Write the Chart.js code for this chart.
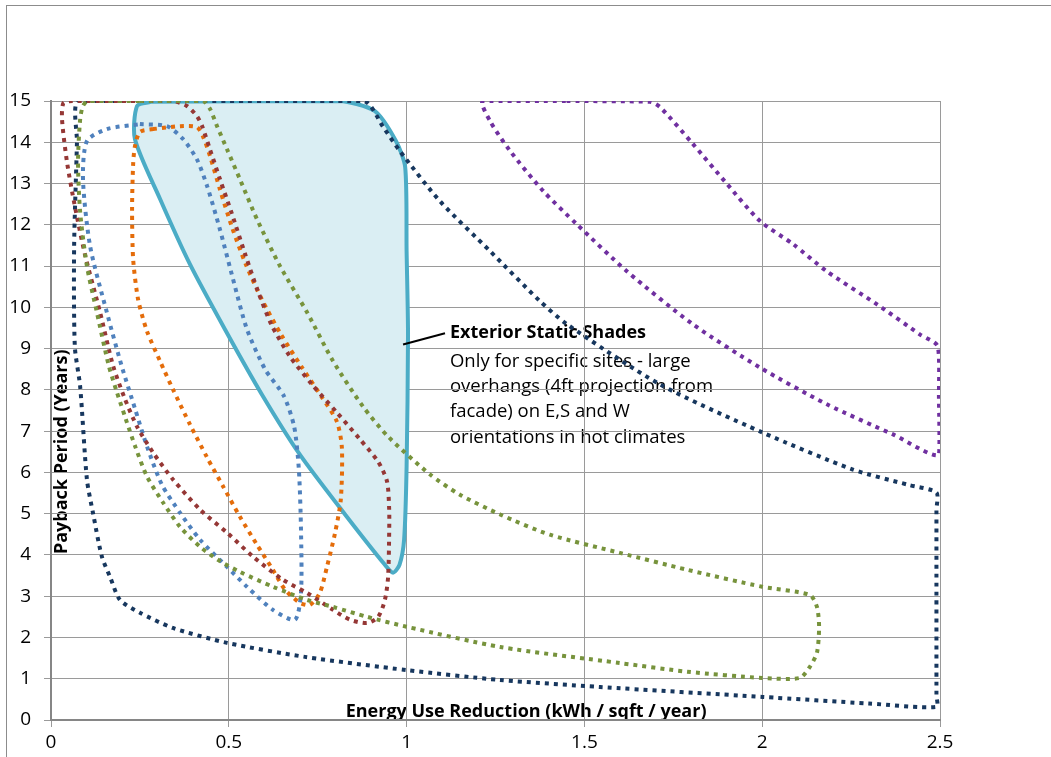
<!DOCTYPE html>
<html>
<head>
<meta charset="utf-8">
<script src="https://cdn.jsdelivr.net/npm/chart.js@4.4.0/dist/chart.umd.min.js"></script>
<style>
  html, body { margin: 0; padding: 0; background: #fff; }
  #wrap { position: relative; width: 1051px; height: 757px; overflow: hidden; }
  #frame { position: absolute; left: 6px; top: 5px; width: 1100px; height: 800px; border: 1px solid #8c8c8c; }
  canvas { position: absolute; left: 0; top: 0; }
</style>
</head>
<body>
<div id="wrap">
  <div id="frame"></div>
  <canvas id="myChart" width="1051" height="757"></canvas>
</div>
<script>
// axis ticks
const xTicks = [0, 0.5, 1, 1.5, 2, 2.5];
const yTicks = [0, 1, 2, 3, 4, 5, 6, 7, 8, 9, 10, 11, 12, 13, 14, 15];

const xTitle = "Energy Use Reduction (kWh / sqft / year)";
const yTitle = "Payback Period (Years)";
const noteTitle = "Exterior Static Shades";
const noteLines = [
  "Only for specific sites - large",
  "overhangs (4ft projection from",
  "facade) on E,S and W",
  "orientations in hot climates",
];

// closed outlines, [energy reduction, payback years]
const staticShades = [[0.28,14.98],[0.81,15.0],[0.91,14.76],[0.97,14.03],[0.996,13.4],[1.0,11.36],[1.004,9.34],[1.0,6.14],[0.993,4.37],[0.98,3.76],[0.962,3.57],[0.939,3.76],[0.827,4.98],[0.70,6.43],[0.593,7.89],[0.489,9.47],[0.391,11.04],[0.307,12.62],[0.236,14.08],[0.242,14.88],[0.28,14.98]];

const navyLoop = [[0.2,15.0],[0.5,15.0],[0.88,15.0],[0.934,14.37],[0.98,13.8],[1.094,12.57],[1.235,11.36],[1.375,10.15],[1.451,9.59],[1.713,8.13],[2.0,6.97],[2.255,6.07],[2.41,5.7],[2.49,5.51],[2.49,5.1],[2.49,3.0],[2.49,0.6],[2.49,0.32],[2.3,0.4],[2.0,0.56],[1.544,0.8],[1.263,0.97],[1.0,1.21],[0.714,1.53],[0.495,1.87],[0.343,2.23],[0.25,2.6],[0.194,2.91],[0.166,3.47],[0.143,3.96],[0.118,5.02],[0.101,5.83],[0.082,8.08],[0.067,9.05],[0.065,11.46],[0.073,14.0],[0.075,15.0],[0.2,15.0]];

const purpleLoop = [[1.45,15.0],[1.684,14.98],[1.713,14.85],[1.805,13.96],[1.901,12.99],[1.994,12.09],[2.087,11.53],[2.182,10.87],[2.323,10.07],[2.444,9.34],[2.494,9.05],[2.497,7.8],[2.497,6.43],[2.368,6.92],[2.182,7.65],[1.994,8.54],[1.805,9.59],[1.62,10.87],[1.479,12.01],[1.384,12.82],[1.291,13.79],[1.235,14.51],[1.215,15.0],[1.45,15.0]];

const blueLoop = [[0.25,14.44],[0.326,14.39],[0.371,14.08],[0.41,13.59],[0.439,12.94],[0.475,11.89],[0.512,10.68],[0.551,9.47],[0.602,8.5],[0.655,7.85],[0.684,7.1],[0.697,6.07],[0.703,4.61],[0.703,3.08],[0.686,2.43],[0.624,2.67],[0.551,3.23],[0.495,3.71],[0.419,4.37],[0.363,5.02],[0.312,5.7],[0.27,6.63],[0.236,7.55],[0.198,8.6],[0.157,9.88],[0.11,11.48],[0.09,13.1],[0.101,14.03],[0.157,14.32],[0.25,14.44]];

const orangeLoop = [[0.287,14.32],[0.363,14.39],[0.41,14.37],[0.427,14.15],[0.447,13.67],[0.475,12.86],[0.509,11.94],[0.548,11.04],[0.593,10.19],[0.647,9.34],[0.706,8.54],[0.762,7.82],[0.804,7.23],[0.818,6.6],[0.815,5.34],[0.799,4.54],[0.776,3.71],[0.756,3.08],[0.728,2.79],[0.70,2.84],[0.658,3.16],[0.624,3.64],[0.579,4.25],[0.531,4.93],[0.484,5.66],[0.439,6.36],[0.391,7.16],[0.343,8.01],[0.307,8.69],[0.27,9.42],[0.245,10.19],[0.231,11.17],[0.228,12.38],[0.231,13.47],[0.236,13.9],[0.25,14.25],[0.287,14.32]];

const maroonLoop = [[0.2,15.0],[0.343,15.0],[0.382,14.88],[0.41,14.64],[0.425,14.39],[0.447,13.83],[0.475,13.11],[0.509,12.26],[0.546,11.29],[0.582,10.39],[0.621,9.56],[0.672,8.81],[0.734,8.13],[0.804,7.45],[0.869,6.8],[0.92,6.26],[0.945,5.78],[0.951,5.1],[0.951,4.54],[0.948,3.47],[0.939,2.91],[0.92,2.5],[0.889,2.35],[0.841,2.43],[0.793,2.67],[0.72,3.08],[0.652,3.4],[0.568,3.96],[0.495,4.54],[0.419,5.1],[0.343,5.83],[0.287,6.48],[0.242,7.11],[0.207,7.8],[0.174,8.6],[0.138,9.88],[0.095,11.3],[0.066,12.5],[0.045,13.52],[0.031,14.56],[0.035,14.95],[0.06,15.0],[0.2,15.0]];

const greenLoop = [[0.25,15.0],[0.427,15.0],[0.447,14.81],[0.467,14.39],[0.495,13.83],[0.531,13.11],[0.579,12.14],[0.644,11.0],[0.72,9.88],[0.793,8.7],[0.877,7.6],[0.95,6.85],[1.066,5.95],[1.15,5.46],[1.263,4.98],[1.403,4.49],[1.6,4.05],[1.789,3.64],[2.0,3.23],[2.134,3.03],[2.154,2.74],[2.16,2.26],[2.154,1.63],[2.134,1.29],[2.106,1.02],[2.0,1.02],[1.789,1.17],[1.6,1.38],[1.263,1.77],[1.0,2.26],[0.889,2.5],[0.793,2.74],[0.72,2.91],[0.624,3.23],[0.531,3.59],[0.475,3.85],[0.419,4.2],[0.363,4.68],[0.315,5.27],[0.27,5.9],[0.238,6.6],[0.21,7.3],[0.184,7.98],[0.162,8.6],[0.129,9.88],[0.101,11.0],[0.082,12.31],[0.076,13.52],[0.082,14.56],[0.09,14.88],[0.104,15.0],[0.25,15.0]];

const FONT = '"Open Sans", "DejaVu Sans", sans-serif';

function toPoints(arr) {
  return arr.map(p => ({ x: p[0], y: p[1] }));
}

function dotted(label, arr, color) {
  return {
    label: label,
    data: toPoints(arr),
    showLine: true,
    borderColor: color,
    borderWidth: 4,
    borderDash: [4, 5],
    borderCapStyle: "butt",
    pointRadius: 0,
    tension: 0.25,
    fill: false,
  };
}

// texts sit under the grid, as in the original
const textPlugin = {
  id: "chartText",
  beforeDraw(chart) {
    const ctx = chart.ctx;
    const x = chart.scales.x;
    const y = chart.scales.y;
    if (!x || !y) return;
    ctx.save();
    ctx.fillStyle = "#000";

    // annotation
    const tx = x.getPixelForValue(1.122);
    const ty = y.getPixelForValue(9.39);
    ctx.textAlign = "left";
    ctx.textBaseline = "middle";
    ctx.font = "bold 18px " + FONT;
    ctx.fillText(noteTitle, tx, ty);
    ctx.font = "18.5px " + FONT;
    noteLines.forEach((line, i) => {
      ctx.fillText(line, tx, ty + 29 + i * 25.3);
    });

    // axis titles inside the plot
    ctx.font = "bold 18px " + FONT;
    ctx.textAlign = "center";
    ctx.fillText(xTitle, x.getPixelForValue(1.336), y.getPixelForValue(0.19));
    ctx.save();
    ctx.translate(x.getPixelForValue(0.031), y.getPixelForValue(6.5));
    ctx.rotate(-Math.PI / 2);
    ctx.fillText(yTitle, 0, 0);
    ctx.restore();
    ctx.restore();
  },
  afterDatasetsDraw(chart) {
    const ctx = chart.ctx;
    const x = chart.scales.x;
    const y = chart.scales.y;
    ctx.save();
    ctx.strokeStyle = "#000";
    ctx.lineWidth = 2;
    ctx.beginPath();
    ctx.moveTo(x.getPixelForValue(0.99), y.getPixelForValue(9.1));
    ctx.lineTo(x.getPixelForValue(1.108), y.getPixelForValue(9.37));
    ctx.stroke();
    ctx.restore();
  },
};

const ctx = document.getElementById("myChart").getContext("2d");
new Chart(ctx, {
  type: "scatter",
  data: {
    datasets: [
      dotted("Green", greenLoop, "#77933C"),
      dotted("Maroon", maroonLoop, "#953735"),
      dotted("Orange", orangeLoop, "#E46C0A"),
      dotted("Blue", blueLoop, "#4F81BD"),
      dotted("Purple", purpleLoop, "#7030A0"),
      dotted("Navy", navyLoop, "#17375E"),
      {
        label: noteTitle,
        data: toPoints(staticShades),
        showLine: true,
        borderColor: "#4BACC6",
        borderWidth: 4,
        backgroundColor: "#DAEEF3",
        fill: "shape",
        pointRadius: 0,
        tension: 0.25,
      },
    ],
  },
  options: {
    responsive: false,
    animation: false,
    layout: { padding: { top: 101, right: 111, left: 0, bottom: 0 } },
    plugins: {
      legend: { display: false },
      tooltip: { enabled: false },
    },
    scales: {
      x: {
        type: "linear",
        min: 0,
        max: 2.5,
        afterBuildTicks: (scale) => { scale.ticks = xTicks.map(v => ({ value: v })); },
        afterFit: (scale) => { scale.height = 37; },
        ticks: {
          color: "#000",
          font: { family: FONT, size: 19 },
          padding: 4,
          maxRotation: 0,
          callback: (v) => String(v),
        },
        grid: { color: "#9a9a9a", lineWidth: 1, tickLength: 7 },
        border: { color: "#868686", width: 2 },
      },
      y: {
        type: "linear",
        min: 0,
        max: 15,
        afterBuildTicks: (scale) => { scale.ticks = yTicks.map(v => ({ value: v })); },
        afterFit: (scale) => { scale.width = 51; },
        ticks: {
          color: "#000",
          font: { family: FONT, size: 19 },
          padding: 13,
          callback: (v) => String(v),
        },
        grid: { color: "#9a9a9a", lineWidth: 1, tickLength: 7 },
        border: { color: "#868686", width: 2 },
      },
    },
  },
  plugins: [textPlugin],
});
</script>
</body>
</html>
